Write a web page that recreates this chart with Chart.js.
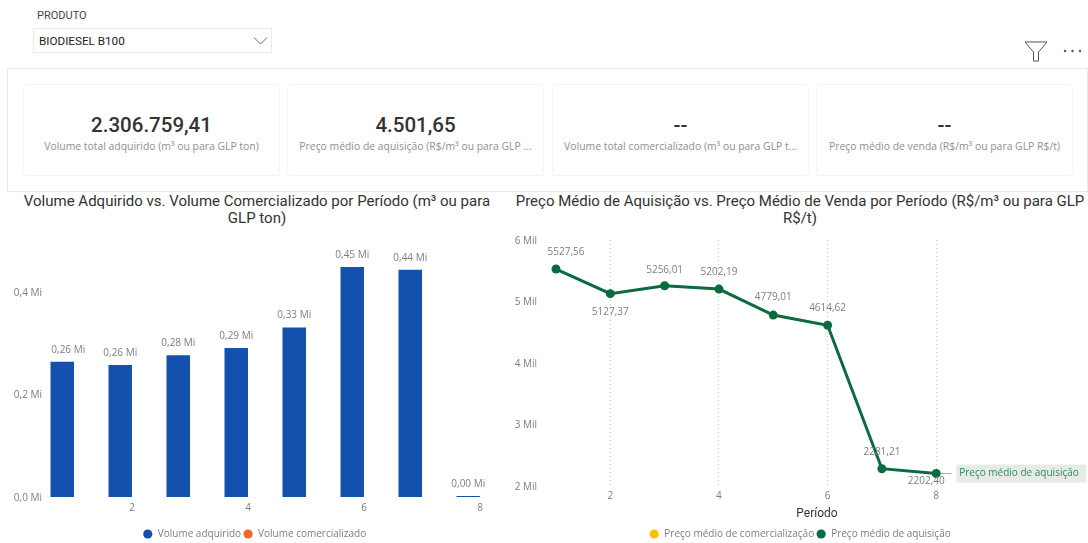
<!DOCTYPE html>
<html lang="pt">
<head>
<meta charset="utf-8">
<title>Biodiesel B100</title>
<script src="https://cdn.jsdelivr.net/npm/chart.js@4"></script>
<style>
  html, body { margin: 0; padding: 0; background: #fff; overflow: hidden; }
  body { width: 1088px; height: 543px; position: relative; font-family: "Open Sans", sans-serif; }
  .abs { position: absolute; }
  .slicerLabel { left: 37px; top: 9px; font: 11px/13px Roboto, sans-serif; color: #444; }
  .slicer { left: 33px; top: 28px; width: 237px; height: 23px; border: 1px solid #e9e9e9; font: 11.7px/25px Roboto, sans-serif; color: #222; text-indent: 5px; }
  .panel { left: 7px; top: 68px; width: 1079px; height: 122px; border: 1px solid #e8e8e8; }
  .card { top: 84px; width: 255px; height: 90px; border: 1px solid #f4f4f4; border-radius: 4px; text-align: center; }
  .card .val { position: absolute; left: 0; right: 0; top: 27px; font: 500 20.5px/26px Roboto, sans-serif; color: #333; }
  .card .sub { position: absolute; left: 0; right: 0; top: 54px; font: 10.4px/14px "Open Sans", sans-serif; color: #8f8f8f; white-space: nowrap; }
  .chartTitle { top: 193px; text-align: center; font: 15px/17px Roboto, sans-serif; color: #333; white-space: nowrap; }
  canvas { position: absolute; }
</style>
</head>
<body>
  <div class="abs slicerLabel">PRODUTO</div>
  <div class="abs slicer">BIODIESEL B100</div>
  <svg class="abs" style="left:253px;top:36px" width="15" height="10"><path d="M1 1.5 L7.5 8 L14 1.5" fill="none" stroke="#666" stroke-width="1"/></svg>
  <svg class="abs" style="left:1024px;top:41px" width="24" height="21"><path d="M1 1 H23 L14.5 11 V20 H9.5 V11 Z" fill="none" stroke="#555" stroke-width="1"/></svg>
  <svg class="abs" style="left:1062px;top:48px" width="22" height="6"><circle cx="3" cy="3" r="1.2" fill="#555"/><circle cx="10.5" cy="3" r="1.2" fill="#555"/><circle cx="18" cy="3" r="1.2" fill="#555"/></svg>

  <div class="abs panel"></div>
  <div class="abs card" style="left:23px"><div class="val">2.306.759,41</div><div class="sub">Volume total adquirido (m³ ou para GLP ton)</div></div>
  <div class="abs card" style="left:287px"><div class="val">4.501,65</div><div class="sub">Preço médio de aquisição (R$/m³ ou para GLP ...</div></div>
  <div class="abs card" style="left:552px"><div class="val">--</div><div class="sub">Volume total comercializado (m³ ou para GLP t...</div></div>
  <div class="abs card" style="left:816px"><div class="val">--</div><div class="sub">Preço médio de venda (R$/m³ ou para GLP R$/t)</div></div>

  <div class="abs chartTitle" style="left:7px;width:500px">Volume Adquirido vs. Volume Comercializado por Período (m³ ou para<br>GLP ton)</div>
  <div class="abs chartTitle" style="left:510px;width:580px">Preço Médio de Aquisição vs. Preço Médio de Venda por Período (R$/m³ ou para GLP<br>R$/t)</div>

  <canvas id="volumeChart" width="510" height="314" style="left:0;top:235px"></canvas>
  <canvas id="priceChart" width="576" height="315" style="left:512px;top:234px"></canvas>

<script>
// Data
const periods      = [1, 2, 3, 4, 5, 6, 7, 8];
const volumeBought = [0.264, 0.258, 0.277, 0.291, 0.331, 0.449, 0.444, 0.002];
const volumeSold   = [];
const priceBought  = [5527.56, 5127.37, 5256.01, 5202.19, 4779.01, 4614.62, 2281.21, 2202.40];
const priceSold    = [];

const volumeTicks = [0, 0.2, 0.4];
const priceTicks  = [2000, 3000, 4000, 5000, 6000];
const periodTicks = [2, 4, 6, 8];

const BLUE = "#1450ae", ORANGE = "#f2672a", GREEN = "#0b6b3f", YELLOW = "#ffc000";
const GREY = "#7d7d7d";
const FONT = "Open Sans";

Chart.defaults.font.family = FONT;
Chart.defaults.font.size = 10;
Chart.defaults.color = GREY;
Chart.defaults.animation = false;

const comma = s => String(s).replace(".", ",");

function legendOpts() {
  return {
    position: "bottom",
    labels: {
      usePointStyle: true, pointStyle: "circle", boxHeight: 6.5, padding: 2, color: GREY, font: { size: 10 },
      generateLabels: chart => Chart.defaults.plugins.legend.labels.generateLabels(chart).map(l => ({ ...l, lineWidth: 0 }))
    }
  };
}

// ---------------------------
// Value labels (no datalabels plugin here)
// ---------------------------
const barLabels = {
  id: "barLabels",
  afterDatasetsDraw(chart) {
    const ctx = chart.ctx;
    ctx.save();
    ctx.font = `10px "${FONT}"`;
    ctx.fillStyle = GREY;
    ctx.textAlign = "center";
    ctx.textBaseline = "middle";
    chart.getDatasetMeta(0).data.forEach((bar, i) => {
      // first label is pushed right, off the axis
      ctx.fillText(comma(volumeBought[i].toFixed(2)) + " Mi", bar.x + (i === 0 ? 6 : 0), bar.y - 12);
    });
    ctx.restore();
  }
};

// dx, dy of each label from its point
const priceLabelOffsets = [[10, -17], [0, 18], [0, -16], [0, -17], [0, -18], [0, -17], [0, -17], [-10, 8]];

const lineLabels = {
  id: "lineLabels",
  afterLayout(chart) {
    // legend sits centred under the whole visual, not the canvas
    chart.legend.left += 5;
    chart.legend.right += 5;
  },
  afterDatasetsDraw(chart) {
    const ctx = chart.ctx;
    const pts = chart.getDatasetMeta(1).data;
    ctx.save();
    ctx.font = `10px "${FONT}"`;
    ctx.fillStyle = GREY;
    ctx.textAlign = "center";
    ctx.textBaseline = "middle";
    pts.forEach((pt, i) => {
      const [dx, dy] = priceLabelOffsets[i];
      ctx.fillText(comma(priceBought[i].toFixed(2)), pt.x + dx, pt.y + dy);
    });

    // series name at the end of the line
    const last = pts[pts.length - 1];
    ctx.strokeStyle = "#aaa";
    ctx.beginPath();
    ctx.moveTo(last.x + 5, last.y);
    ctx.lineTo(last.x + 15, last.y);
    ctx.stroke();
    ctx.fillStyle = "#e7ebe8";
    ctx.fillRect(last.x + 20, last.y - 9, 130, 18);
    ctx.fillStyle = "#2f8a5f";
    ctx.textAlign = "left";
    ctx.fillText("Preço médio de aquisição", last.x + 23, last.y);
    ctx.restore();
  }
};

// ---------------------------
// Volume bars
// ---------------------------
new Chart(document.getElementById("volumeChart"), {
  type: "bar",
  data: {
    labels: periods,
    datasets: [
      { label: "Volume adquirido", data: volumeBought, backgroundColor: BLUE, borderColor: BLUE },
      { label: "Volume comercializado", data: volumeSold, backgroundColor: ORANGE, borderColor: ORANGE }
    ]
  },
  options: {
    responsive: false,
    datasets: { bar: { categoryPercentage: 0.81, barPercentage: 1 } },
    layout: { padding: { top: 6, right: 1 } },
    plugins: { legend: legendOpts(), tooltip: { enabled: false } },
    scales: {
      x: {
        grid: { display: false, tickLength: 0 },
        border: { display: false },
        ticks: {
          autoSkip: false, maxRotation: 0, padding: 5,
          callback(v) { const p = periods[v]; return periodTicks.includes(p) ? p : null; }
        },
        afterFit(s) { s.height = 30; }
      },
      y: {
        min: 0,
        max: 0.5,
        grid: { display: false, tickLength: 3 },
        border: { display: false },
        afterBuildTicks(s) { s.ticks = volumeTicks.map(v => ({ value: v })); },
        ticks: { padding: 0, labelOffset: 1, callback: v => comma(v.toFixed(1)) + " Mi" },
        afterFit(s) { s.width = 45; }
      }
    }
  },
  plugins: [barLabels]
});

// ---------------------------
// Price line
// ---------------------------
new Chart(document.getElementById("priceChart"), {
  type: "line",
  data: {
    datasets: [
      { label: "Preço médio de comercialização", data: priceSold, backgroundColor: YELLOW, borderColor: YELLOW },
      {
        label: "Preço médio de aquisição",
        data: periods.map((p, i) => ({ x: p, y: priceBought[i] })),
        borderColor: GREEN, backgroundColor: GREEN,
        borderWidth: 3, pointRadius: 4.5, pointBorderWidth: 0, tension: 0, clip: false
      }
    ]
  },
  options: {
    responsive: false,
    layout: { padding: { top: 6, right: 10 } },
    plugins: { legend: legendOpts(), tooltip: { enabled: false } },
    scales: {
      x: {
        type: "linear",
        min: 1,
        max: 10.61, // room on the right of the last period, as in the original
        border: { display: false, dash: [1, 3] },
        grid: { color: "#c8c8c8", tickLength: 0, lineWidth: 1 },
        afterBuildTicks(s) { s.ticks = periodTicks.map(v => ({ value: v })); },
        ticks: { padding: 4, maxRotation: 0, callback: v => v },
        title: { display: true, text: "Período", color: "#333", font: { family: "Roboto", size: 12 }, padding: { top: 0, bottom: 6 } },
        afterFit(s) { s.height = 41; }
      },
      y: {
        min: 2000,
        max: 6000,
        grid: { display: false, tickLength: 19 },
        border: { display: false },
        afterBuildTicks(s) { s.ticks = priceTicks.map(v => ({ value: v })); },
        ticks: { padding: 0, labelOffset: 1, callback: v => (v / 1000) + " Mil" },
        afterFit(s) { s.width = 44; }
      }
    }
  },
  plugins: [lineLabels]
});
</script>
</body>
</html>
